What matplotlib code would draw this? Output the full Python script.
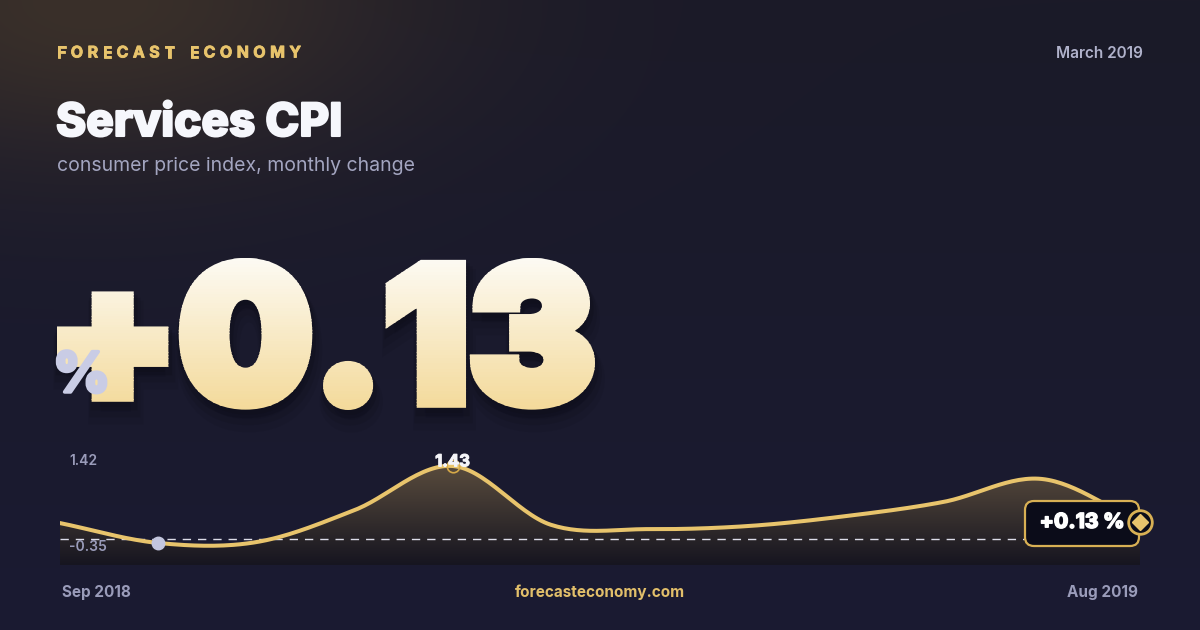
import numpy as np
import matplotlib
matplotlib.use("Agg")
import matplotlib.pyplot as plt
from matplotlib.textpath import TextPath
from matplotlib.patches import PathPatch, FancyBboxPatch, Rectangle
from matplotlib.font_manager import FontProperties
from matplotlib.transforms import Affine2D
import matplotlib.patheffects as pe

plt.rcParams['font.family'] = ['Inter', 'DejaVu Sans']

# data (monthly change, %)
months = ['Sep 2018', 'Oct 2018', 'Nov 2018', 'Dec 2018', 'Jan 2019', 'Feb 2019',
          'Mar 2019', 'Apr 2019', 'May 2019', 'Jun 2019', 'Jul 2019', 'Aug 2019']
values = [0.11, -0.35, -0.33, 0.41, 1.43, 0.07, -0.03, 0.04, 0.27, 0.60, 1.13, 0.13]
ref_level = -0.26
y_top_label = '1.42'
y_bottom_label = '-0.35'
headline = '+0.13'

GOLD = '#e8c46c'
BG = '#181829'
MUTED = '#9a9cba'

W, H = 1200, 630
fig = plt.figure(figsize=(12, 6.3), dpi=100)

# background axes in pixel coordinates (y down)
bg = fig.add_axes([0, 0, 1, 1], zorder=0)
bg.set_xlim(0, W)
bg.set_ylim(H, 0)
bg.axis('off')

yy, xx = np.mgrid[0:H, 0:W]
base_top = np.array([27, 26, 40]) / 255
base_bot = np.array([26, 27, 50]) / 255
t = (yy / H)[..., None]
img = base_top * (1 - t) + base_bot * t
warm = np.array([58, 48, 42]) / 255
d = np.sqrt((xx - 90.0) ** 2 + (yy * 2.0) ** 2)
glow = np.exp(-(d / 320.0) ** 2)[..., None]
img = img * (1 - glow) + warm * glow
bg.imshow(img, extent=(0, W, H, 0), origin='upper', aspect='auto', zorder=0)


def spaced_text(ax, x, y, s, tracking, **kw):
    r = fig.canvas.get_renderer()
    for ch in s:
        if ch == ' ':
            x += 10
            continue
        tx = ax.text(x, y, ch, ha='left', va='center', **kw)
        x += tx.get_window_extent(r).width + tracking


bold_fx = lambda c, w=1.2: [pe.withStroke(linewidth=w, foreground=c)]

spaced_text(bg, 57, 53, 'FORECAST ECONOMY', 4.5, color=GOLD, fontsize=11.5,
            fontweight='bold', path_effects=bold_fx(GOLD, 0.6))
bg.text(1143, 54, 'March 2019', ha='right', va='center', color='#b0b2cb',
        fontsize=11, fontweight='semibold')
bg.text(56, 124, 'Services CPI', ha='left', va='center', color='#f6f7fc',
        fontsize=33, fontweight='heavy', path_effects=bold_fx('#f6f7fc', 1.5))
bg.text(57, 166, 'consumer price index, monthly change', ha='left', va='center',
        color='#a3a5c0', fontsize=14)

# big headline number: thickened glyphs with a vertical gradient
fp = FontProperties(family=['Inter', 'DejaVu Sans'], weight='black')
tp = TextPath((0, 0), headline, size=100, prop=fp)
ext = tp.get_extents()
stroke = 12.0  # px
x0, x1, y0, y1 = 57 + stroke / 2, 595 - stroke / 2, 410 - stroke / 2, 258 + stroke / 2
sx = (x1 - x0) / ext.width
sy = (y0 - y1) / ext.height
tr = Affine2D().translate(-ext.x0, -ext.y0).scale(sx, -sy).translate(x0, y0)
lw_pt = stroke * 72 / 100
for off, a in [(16, 0.07), (11, 0.10), (6, 0.16)]:
    sh = PathPatch(tp, transform=tr + Affine2D().translate(off * 0.2, off) + bg.transData,
                   facecolor='#06060d', edgecolor='#06060d', lw=lw_pt + off * 0.6,
                   alpha=a, zorder=2)
    bg.add_patch(sh)
top_c = np.array([253, 252, 248]) / 255
bot_c = np.array([243, 216, 150]) / 255
nb = 60
edges = np.linspace(250, 416, nb + 1)
for i in range(nb):
    f = (i + 0.5) / nb
    c = top_c * (1 - f) + bot_c * f
    p = PathPatch(tp, transform=tr + bg.transData, facecolor=c, edgecolor=c,
                  lw=lw_pt, joinstyle='miter', zorder=3)
    bg.add_patch(p)
    r = Rectangle((40, edges[i]), 600, edges[i + 1] - edges[i] + 0.6,
                  transform=bg.transData, visible=False)
    bg.add_patch(r)
    p.set_clip_path(r)

bg.text(53, 392, '%', ha='left', va='baseline', color='#c9cce5', fontsize=40,
        fontweight='heavy', zorder=4, path_effects=bold_fx('#c9cce5', 2.5))

# chart
ax = fig.add_axes([60 / W, (H - 565) / H, 1080 / W, 115 / H], zorder=1)
ax.patch.set_alpha(0)
ax.axis('off')
x = np.arange(len(values))
v = np.array(values)
ax.set_xlim(0, len(values) - 1)
ax.set_ylim(-0.86, 1.80)

# catmull-rom smoothing for the rendered line
pts = np.concatenate([[2 * v[0] - v[1]], v, [2 * v[-1] - v[-2]]])
xs, ys = [], []
for i in range(len(v) - 1):
    p0, p1, p2, p3 = pts[i], pts[i + 1], pts[i + 2], pts[i + 3]
    s = np.linspace(0, 1, 30, endpoint=False)
    ys.append(0.5 * ((2 * p1) + (-p0 + p2) * s + (2 * p0 - 5 * p1 + 4 * p2 - p3) * s ** 2
                     + (-p0 + 3 * p1 - 3 * p2 + p3) * s ** 3))
    xs.append(i + s)
xs = np.concatenate(xs + [[x[-1]]])
ys = np.concatenate(ys + [[v[-1]]])

poly = ax.fill_between(xs, ys, -0.86, color='none', lw=0)
fg = np.linspace(0, 1, 200)[:, None]
c_top = np.array([92, 78, 62]) / 255
c_bot = np.array([22, 21, 32]) / 255
fgrad = (c_top * (1 - fg) + c_bot * fg)[:, None, :].repeat(2, axis=1)
fi = ax.imshow(fgrad, extent=(0, len(values) - 1, -0.86, 1.55), origin='upper',
               aspect='auto', zorder=1)
fi.set_clip_path(poly.get_paths()[0], transform=ax.transData)
ax.axhline(ref_level, color='#dcdce8', lw=1, dashes=(6, 5), zorder=2)
ax.plot(xs, ys, color=GOLD, lw=2.9, solid_capstyle='round', zorder=3)

imin = int(np.argmin(v))
imax = int(np.argmax(v))
ax.plot(x[imin], v[imin], 'o', ms=9, color='#c3c6df', zorder=4, clip_on=False)
ax.plot(x[imax], v[imax], 'o', ms=9, mfc='none', mec='#d6a948', mew=1.2, zorder=4,
        clip_on=False)
ax.annotate(f'{v[imax]:.2f}', (x[imax], v[imax]), xytext=(0, 3), textcoords='offset points',
            ha='center', va='center', color='#f4f4f8', fontsize=12, fontweight='bold',
            zorder=5, path_effects=bold_fx('#f4f4f8', 0.8))

# axis extremes labels (drawn in chart axes so they sit above the fill)
ax.text(69, 461, y_top_label, transform=bg.transData, ha='left', va='center',
        color=MUTED, fontsize=10, fontweight='semibold', zorder=5)
ax.text(69, 547, y_bottom_label, transform=bg.transData, ha='left', va='center',
        color=MUTED, fontsize=10, fontweight='semibold', zorder=5)

box = FancyBboxPatch((1025, 501), 114, 45, boxstyle='round,pad=0,rounding_size=9',
                     transform=bg.transData, facecolor='#0b0c19', edgecolor='#d8b054',
                     lw=1.6, zorder=6, clip_on=False)
ax.add_patch(box)
ax.text(1082, 522, f'{values[-1]:+.2f} %', transform=bg.transData, ha='center',
        va='center', color='white', fontsize=15, fontweight='heavy', zorder=7,
        path_effects=bold_fx('white', 1.0))
ax.plot(x[-1], v[-1], 'o', ms=17, mfc='#0b0c19', mec='#d8b054', mew=2, zorder=8,
        clip_on=False)
ax.plot(x[-1], v[-1], 'D', ms=8, color='#e8c46c', zorder=9, clip_on=False)

bg.text(62, 592, months[0], ha='left', va='center', color=MUTED, fontsize=11,
        fontweight='bold')
bg.text(1138, 592, months[-1], ha='right', va='center', color=MUTED, fontsize=11,
        fontweight='bold')
bg.text(600, 592, 'forecasteconomy.com', ha='center', va='center', color='#e2bf6a',
        fontsize=11, fontweight='bold')

fig.savefig('out.png', dpi=100, facecolor=BG)
